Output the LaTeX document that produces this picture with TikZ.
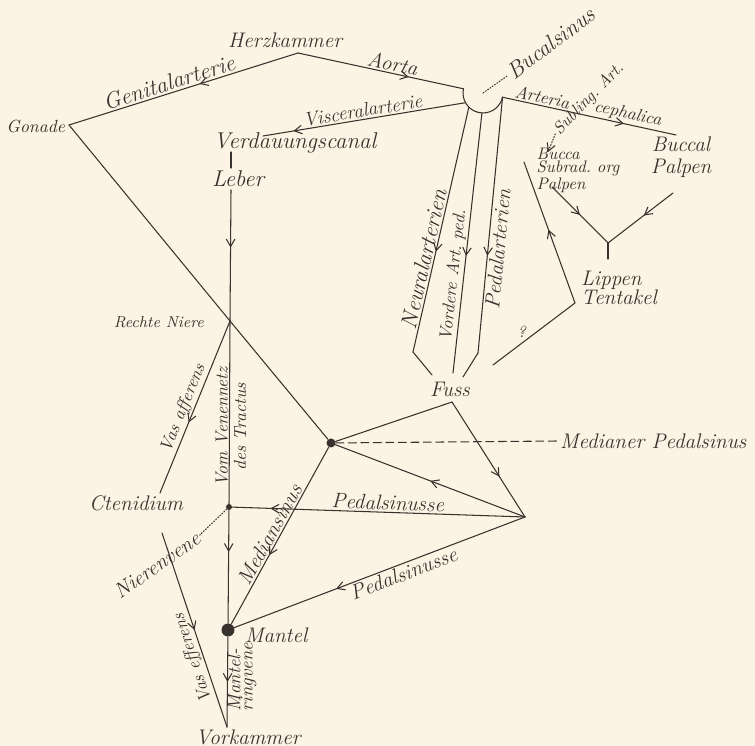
\documentclass[tikz,border=0pt]{standalone}
\usepackage{tikz}
\usetikzlibrary{positioning,arrows.meta,decorations.markings}

\definecolor{papier}{RGB}{252,243,228}
\definecolor{tinte}{RGB}{55,50,45}

\begin{document}
\begin{tikzpicture}[
    x=0.02cm, y=-0.02cm,
    gross/.style={font=\fontsize{13}{13}\selectfont\itshape, text=tinte, inner sep=1pt},
    lbl/.style={font=\fontsize{12}{12}\selectfont\itshape, text=tinte, inner sep=1pt},
    klein/.style={font=\fontsize{10}{10}\selectfont\itshape, text=tinte, inner sep=1pt},
    winzig/.style={font=\fontsize{9}{9}\selectfont\itshape, text=tinte, inner sep=1pt},
    gefaess/.style={draw=tinte, line width=0.6pt, line cap=round},
    pfeil/.style={postaction={decorate}, decoration={markings, mark=at position #1 with {\arrow{Straight Barb[length=1.5mm, width=1.7mm]}}}},
    punkt/.style={circle, fill=tinte, inner sep=0pt, minimum size=#1}
]
\fill[papier] (0,0) rectangle (755,746);
\useasboundingbox (0,0) rectangle (755,746);

% HERZ UND AORTA
\node[lbl] (A) at (285,40) {Herzkammer};
\coordinate (h) at (298,53);
\node[klein, anchor=east] (B) at (67,127) {Gonade};
\coordinate (g) at (69,125);
\coordinate (M) at (483,93);
\path (M) ++(192.2:20) coordinate (ml);
\path (M) ++(12.2:20) coordinate (mr);
\path (M) ++(151:20) coordinate (a0);
\path (M) ++(135:20) coordinate (a1);
\path (M) ++(93:20) coordinate (a2);
\coordinate (c) at (676,135);
\node[gross, rotate=37] (N) at (551,43) {Bucalsinus};

% DARM
\node[gross] (C) at (295,143) {Verdauungscanal};
\coordinate (v) at (263,136);
\node[gross] (D) at (238,179) {Leber};
\coordinate (d0) at (231,152);
\coordinate (d1) at (231,168);
\coordinate (d2) at (231,190);

% FUSS
\coordinate (a1k) at (413,352);
\coordinate (a3k) at (478,353);
\coordinate (fa) at (432,375);
\coordinate (fb) at (453,373);
\coordinate (fc) at (463,377);
\node[lbl] (F) at (450,389) {Fuss};
\coordinate (f) at (452,402);
\coordinate (r) at (525,517);
\node[punkt=1.8mm] (X) at (331,443) {};
\node[lbl, anchor=west] (I) at (558,441) {Medianer Pedalsinus};

% NIERE UND KIEME
\coordinate (n) at (230,321);
\node[winzig, anchor=east] (E) at (206,322) {Rechte Niere};
\node[klein, rotate=90, align=center, font=\fontsize{10}{10.5}\selectfont\itshape] (U) at (231,427) {Vom Venennetz\\des Tractus};
\node[lbl] (G) at (136,503) {Ctenidium};
\coordinate (q) at (160,493);
\coordinate (e) at (162,533);
\node[punkt=1.2mm] (S) at (229,507) {};
\node[lbl, rotate=35] (H) at (157,565) {Nierenvene};
\node[klein, rotate=108] (Y) at (193,658) {Vas efferens};

% MANTEL UND VORKAMMER
\node[punkt=2.6mm] (Q) at (228,630) {};
\node[lbl, anchor=west] (W) at (243,635) {Mantel};
\node[klein, rotate=90, align=left, font=\fontsize{10.5}{7}\selectfont\itshape] (Z) at (242,677) {Mantel-\\ringvene};
\coordinate (k) at (227,727);
\node[lbl] (V) at (248,737) {Vorkammer};

% PALPEN UND TENTAKEL
\node[winzig, rotate=46, font=\fontsize{9.5}{9.5}\selectfont\itshape] (O) at (589,99) {Subling.\ Art.};
\coordinate (b) at (548,152);
\node[klein, align=left, font=\fontsize{9.5}{7.5}\selectfont\itshape] (J) at (578,170) {Bucca\\Subrad.\ org\\Palpen};
\node[lbl, align=center, font=\fontsize{12}{12.5}\selectfont\itshape] (K) at (681,157) {Buccal\\Palpen};
\node[lbl, align=left, font=\fontsize{12}{11}\selectfont\itshape] (L) at (619,288) {Lippen\\Tentakel};
\coordinate (y0) at (608,243);
\coordinate (y1) at (552,187);
\coordinate (y2) at (673,193);
\coordinate (y3) at (608,259);
\coordinate (t0) at (575,303);
\coordinate (t1) at (524,162);
\coordinate (t2) at (493,365);

% Arterien
\draw[gefaess, pfeil=0.43] (h) -- node[gross, sloped, above, pos=0.55] {Genitalarterie} (g);
\draw[gefaess, pfeil=0.67] (h) -- node[lbl, sloped, above, pos=0.56] {Aorta} (ml);
\draw[gefaess] (ml) arc[start angle=167.8, end angle=347.8, radius=0.4cm];
\draw[gefaess, pfeil=0.7] (mr) -- node[klein, sloped, above, pos=0.22] {Arteria} node[klein, sloped, above, pos=0.71] {cephalica} (c);
\draw[gefaess, pfeil=0.85] (a0) -- node[lbl, sloped, above, pos=0.5, font=\fontsize{11}{11}\selectfont\itshape] {Visceralarterie} (v);
\draw[gefaess, pfeil=0.59] (a1) -- node[gross, sloped, above, pos=0.63] {Neuralarterien} (a1k);
\draw[gefaess] (a1k) -- (fa);
\draw[gefaess, pfeil=0.55] (a2) -- node[klein, sloped, above, pos=0.63] {Vordere Art.\ ped.} (fb);
\draw[gefaess, pfeil=0.62] (mr) -- node[lbl, sloped, below, pos=0.59] {Pedalarterien} (a3k);
\draw[gefaess] (a3k) -- (fc);
\draw[gefaess, densely dotted] (M) -- (N.west);
\draw[gefaess, densely dotted, -{Straight Barb[length=1.5mm, width=1.7mm]}] (O.west) -- (b);

% Darm und Niere
\draw[gefaess] (d0) -- (d1);
\draw[gefaess, pfeil=0.44] (d2) -- (n);
\draw[gefaess] (g) -- (n) -- (X);
\draw[gefaess, pfeil=0.59] (n) -- node[klein, sloped, above, pos=0.53] {Vas afferens} (q);
\draw[gefaess] (n) -- (S);
\draw[gefaess, densely dotted] (S) -- (H.east);

% Pedalsinusse
\draw[gefaess] (f) -- (X);
\draw[gefaess, pfeil=0.65] (f) -- (r);
\draw[gefaess, pfeil=0.5] (r) -- (X);
\draw[gefaess, pfeil=0.87] (r) -- node[lbl, sloped, above, pos=0.47] {Pedalsinusse} (S);
\draw[gefaess, pfeil=0.65] (r) -- node[lbl, sloped, below, pos=0.43] {Pedalsinusse} (Q);
\draw[gefaess, pfeil=0.61] (X) -- node[lbl, sloped, above, pos=0.52] {Mediansinus} (Q);
\draw[gefaess, dash pattern=on 1.6mm off 0.9mm] (X) -- (I.west);

% Mantel
\draw[gefaess, pfeil=0.37] (S) -- (Q);
\draw[gefaess, pfeil=0.5] (Q) -- (k);
\draw[gefaess, pfeil=0.5] (e) -- (k);

% Palpen
\draw[gefaess, pfeil=0.5] (y1) -- (y0);
\draw[gefaess, pfeil=0.45] (y2) -- (y0);
\draw[gefaess] (y0) -- (y3);
\draw[gefaess, pfeil=0.52] (t0) -- (t1);
\draw[gefaess] (t2) -- node[winzig, above=2pt, pos=0.35] {?} (t0);

\end{tikzpicture}
\end{document}
